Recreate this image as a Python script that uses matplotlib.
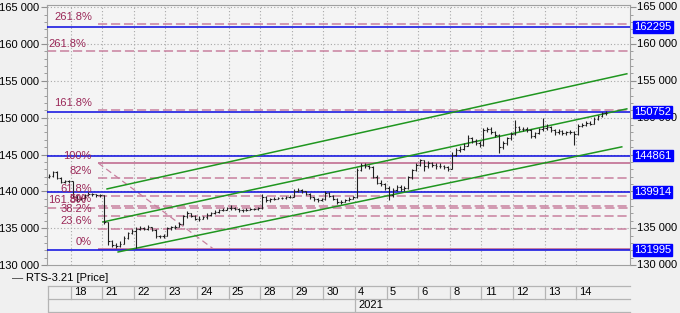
import numpy as np
import matplotlib
matplotlib.use("Agg")
from matplotlib import pyplot as plt
import matplotlib.transforms as mtransforms

plt.rcParams['font.family'] = ['Liberation Sans', 'DejaVu Sans']
plt.rcParams['font.size'] = 8

# ---- data ----
day_labels = ['18', '21', '22', '23', '24', '25', '28', '29', '30',
              '4', '5', '6', '8', '11', '12', '13', '14']
year_label = '2021'
year_start = 9  # index of "4" (Jan 4)

first_open = 142000
# day 17 (partial) then one row of 8 bars per day
closes = [
    142100, 142600, 141800, 141300, 141400, 141350,
    139300, 138900, 139100, 139500, 139700, 139600, 139500, 139450,
    135800, 133200, 132700, 132600, 132900, 133600, 134300, 134600,
    134900, 135000, 134900, 135100, 134800, 133900, 133900, 134000,
    135000, 135100, 135200, 135500, 136600, 137000, 136700, 136300,
    136300, 136500, 136800, 137000, 137200, 137400, 137500, 137700,
    137800, 137600, 137400, 137400, 137500, 137600, 137600, 137700,
    139300, 138800, 138900, 139000, 139100, 139100, 139200, 139300,
    140100, 140200, 140000, 139700, 139200, 138900, 138800, 138900,
    139800, 139400, 139000, 138500, 138600, 138800, 139000, 139200,
    142900, 143600, 143500, 143300, 142000, 141200, 141000, 140500,
    139500, 140200, 140600, 140300, 140400, 141900, 142900, 143600,
    144200, 143400, 143900, 143600, 143400, 143500, 143300, 143100,
    145000, 145600, 145800, 146200, 147300, 146900, 146600, 146300,
    148300, 148500, 148000, 147600, 146000, 146500, 147200, 147800,
    148700, 148400, 148500, 148300, 147500, 147900, 148400, 148600,
    148800, 148300, 148000, 148200, 147900, 148000, 148100, 147800,
    148900, 149000, 149300, 149200, 149800, 150200, 150600, 150700,
]
highs = [
    142300, 142800, 142700, 141900, 141600, 141500,
    141400, 139500, 139300, 139700, 139900, 139800, 139700, 139600,
    139500, 135900, 133400, 133000, 133200, 133900, 134500, 134900,
    135100, 135300, 135200, 135400, 135200, 134900, 134100, 134200,
    135200, 135300, 135400, 135800, 136800, 137300, 137100, 136800,
    136600, 136700, 137000, 137200, 137400, 137600, 137700, 137900,
    138100, 137900, 137700, 137600, 137700, 137800, 137800, 137900,
    139600, 139400, 139100, 139200, 139300, 139300, 139400, 139500,
    140300, 140500, 140300, 140100, 139800, 139300, 139100, 139100,
    140000, 139900, 139500, 139100, 138800, 139000, 139200, 139400,
    143200, 143900, 143800, 143600, 143400, 142200, 141500, 141200,
    140700, 140500, 140900, 140800, 140700, 142100, 143100, 143900,
    144400, 144300, 144100, 144000, 143800, 143800, 143600, 143500,
    145300, 145900, 146100, 146500, 147600, 147400, 147100, 146800,
    148600, 148800, 148700, 148200, 147800, 146800, 147400, 148100,
    149700, 148900, 148700, 148700, 148400, 148100, 148600, 150000,
    149100, 148900, 148500, 148400, 148300, 148200, 148300, 148200,
    149200, 149300, 149500, 149500, 150100, 150400, 150800, 150900,
]
lows = [
    141800, 142000, 141700, 141200, 141200, 141200,
    139100, 138500, 138800, 139000, 139400, 139400, 139300, 139300,
    135600, 132700, 132400, 132300, 132500, 132800, 133500, 134200,
    132300, 134700, 134700, 134800, 134600, 133700, 133600, 133700,
    133900, 134800, 134900, 135100, 135400, 136400, 136500, 136100,
    136000, 136200, 136300, 136700, 136900, 137100, 137300, 137400,
    137500, 137400, 137200, 137200, 137300, 137400, 137400, 137500,
    137600, 138600, 138600, 138800, 138900, 138900, 139000, 139100,
    139200, 139900, 139800, 139500, 139000, 138700, 138600, 138700,
    138800, 139200, 138800, 138300, 138300, 138500, 138700, 138900,
    139100, 142700, 143200, 143000, 141800, 141000, 140700, 140200,
    138800, 139300, 140000, 140000, 140100, 140300, 141700, 142700,
    143400, 142700, 143200, 143300, 143100, 143200, 143000, 142800,
    143000, 144800, 145400, 145600, 146100, 146600, 146300, 146000,
    146100, 148100, 147800, 147400, 145200, 145800, 146300, 147000,
    147600, 148200, 148200, 148100, 147200, 147300, 147800, 148200,
    148300, 148000, 147700, 147800, 147600, 147700, 147800, 146300,
    147600, 148700, 148900, 149000, 149100, 149700, 150100, 150400,
]

# horizontal price levels (blue) with value boxes on the right axis
levels = [162295, 150752, 144861, 139914, 131995]

# fibonacci retracement set (from the 21st), drawn from day 0.87
fib_a_pcts = ['261.8%', '161.8%', '100%', '82%', '61.8%', '50%', '38.2%', '23.6%', '0%']
fib_a_vals = [162700, 151050, 143850, 141750, 139400, 138030, 136650, 134950, 132200]
# second set, drawn from the left edge
fib_b_pcts = ['261.8%', '161.8%']
fib_b_vals = [159000, 137800]

# diagonal of the retracement tool
diag_x = [0.87, 4.51]
diag_y = [143850, 132200]

# trend channel (green)
chan_top_x, chan_top_y = [1.15, 17.60], [140330, 155960]
chan_mid_x, chan_mid_y = [1.02, 17.60], [135840, 151200]
chan_bot_x, chan_bot_y = [1.50, 17.44], [131770, 146040]

# ---- layout ----
W, H = 680, 313
fig = plt.figure(figsize=(W / 100, H / 100), dpi=100)
bg = '#f0f0f0'
fig.patch.set_facecolor(bg)
x0, x1, ytop, ybot = 47, 630, 5, 265
ax = fig.add_axes([x0 / W, 1 - ybot / H, (x1 - x0) / W, (ybot - ytop) / H])
ax.set_facecolor('#f4f4f4')
xmin, xmax = -0.75, 17.70
ax.set_xlim(xmin, xmax)
ax.set_ylim(130000, 165300)

pink = '#c8809f'
pink_txt = '#9a2858'
blue = '#0a0ae0'
green = '#1f961f'

# grid
for d in range(len(day_labels)):
    ax.axvline(d, color='#a8a8a8', lw=0.8, ls=(0, (1, 2)), zorder=1)
for v in range(135000, 165001, 5000):
    ax.axhline(v, color='#a8a8a8', lw=0.8, ls=(0, (1, 2)), zorder=1)

# fib lines
for lab, v in zip(fib_a_pcts, fib_a_vals):
    solid = lab in ('100%', '0%')
    ax.hlines(v, 0.87, xmax, color=pink, lw=1.1 if not solid else 1.4,
              ls='-' if solid else (0, (6, 2.5)), zorder=2)
    ax.text(0.67, v + 280, lab, color=pink_txt, ha='right', va='bottom', fontsize=8, zorder=6)
for lab, v in zip(fib_b_pcts, fib_b_vals):
    ax.hlines(v, xmin, xmax, color=pink, lw=1.1, ls=(0, (6, 2.5)), zorder=2)
    ax.text(0.48, v + 280, lab, color=pink_txt, ha='right', va='bottom', fontsize=8, zorder=6)
ax.plot(diag_x, diag_y, color=pink, lw=0.9, ls=(0, (5, 3)), zorder=2)

# blue levels
for v in levels:
    ax.axhline(v, color=blue, lw=1.1, zorder=3)

# channel
for xs, ys in [(chan_top_x, chan_top_y), (chan_mid_x, chan_mid_y), (chan_bot_x, chan_bot_y)]:
    ax.plot(xs, ys, color=green, lw=1.1, zorder=4)

# price bars
n17 = 6
xs = [xmin + (j + 0.5) * (-xmin / n17) for j in range(n17)]
for d in range(len(day_labels)):
    xs += [d + (j + 0.5) / 8 for j in range(8)]
xs = np.array(xs)
c = np.array(closes)
o = np.r_[first_open, c[:-1]]
w = 0.045
ax.vlines(xs, lows, highs, color='#202020', lw=0.8, zorder=5)
ax.hlines(o, xs - w, xs, color='#202020', lw=0.8, zorder=5)
ax.hlines(c, xs, xs + w, color='#202020', lw=0.8, zorder=5)

# axes styling
ticks = list(range(130000, 165001, 5000))
fmt = lambda t: '{:,}'.format(t).replace(',', ' ')
ax.set_yticks(ticks)
ax.set_yticklabels([fmt(t) for t in ticks])
ax.set_yticks(range(130000, 165001, 1000), minor=True)
ax.tick_params(axis='y', which='both', left=True, right=True, labelleft=True,
               labelright=False, direction='out', color='#909090', labelsize=8, pad=2)
ax.tick_params(axis='y', which='major', length=4)
ax.tick_params(axis='y', which='minor', length=2)
ax.set_xticks([])
for s in ax.spines.values():
    s.set_color('#a0a0a0')
    s.set_linewidth(0.8)

trans = mtransforms.blended_transform_factory(ax.transAxes, ax.transData)
# right-hand tick labels, except those covered by the value boxes
for t in ticks:
    if min(abs(t - v) for v in levels) < 600:
        continue
    ax.text(1.0115, t, fmt(t), transform=trans, fontsize=8, ha='left', va='center',
            clip_on=False)

# value boxes on the right axis
for v in levels:
    ax.text(1.0075, v, str(v), transform=trans, color='white', fontsize=8,
            ha='left', va='center', zorder=10, clip_on=False,
            bbox=dict(boxstyle='square,pad=0.08', fc='#0000ff', ec='#0000ff'))

# legend
ly = 1 - 277.7 / H
fig.text(12 / W, ly, '\u2014', fontsize=8, va='center', color='#303030')
fig.text(26 / W, ly, 'RTS-3.21 [Price]', fontsize=8, va='center')

# date table below
tb = fig.add_axes([x0 / W, 1 - 311.7 / H, (x1 - x0) / W, 26 / H])
tb.set_xlim(xmin, xmax)
tb.set_ylim(0, 2)
tb.axis('off')
lc = '#b4b4b4'
for yy in (0, 1, 2):
    tb.plot([xmin + 0.02, xmax], [yy, yy], color=lc, lw=0.9, clip_on=False)
tb.plot([xmin + 0.02, xmin + 0.02], [0, 2], color=lc, lw=0.9)
for d, lab in enumerate(day_labels):
    tb.plot([d, d], [1, 2], color=lc, lw=0.9)
    tb.text(d + 0.1, 1.5, lab, fontsize=8, va='center', ha='left')
tb.plot([year_start, year_start], [0, 1], color=lc, lw=0.9)
tb.text(year_start + 0.1, 0.5, year_label, fontsize=8, va='center', ha='left')

fig.savefig('out.png', dpi=100, facecolor=bg)
